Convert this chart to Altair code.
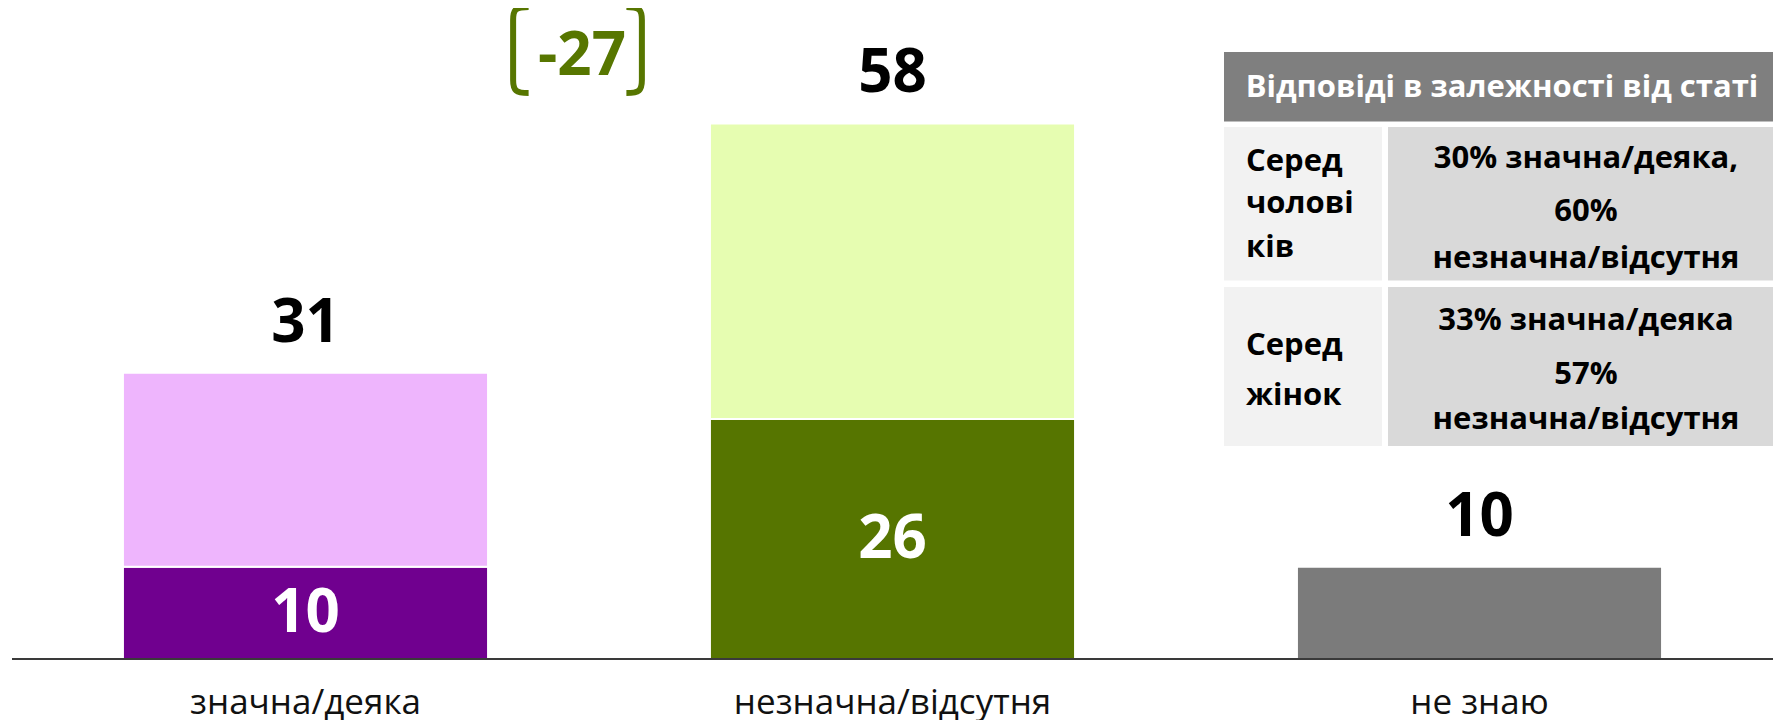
import altair as alt
import pandas as pd

# ---------------- data ----------------
categories = ["значна/деяка", "незначна/відсутня", "не знаю"]
bottom_values = [10, 26, 10]
top_values = [21, 32, 0]
totals = [31, 58, 10]
bottom_colors = ["#70008F", "#567500", "#7B7B7B"]
top_colors = ["#EEB5FD", "#E6FDB1", "#FFFFFF"]
diff_text = "-27"

table_header = "Відповіді в залежності від статі"
table_groups = [["Серед", "чолові", "ків"], ["Серед", "жінок"]]
table_answers = [["30% значна/деяка,", "60%", "незначна/відсутня"],
                 ["33% значна/деяка", "57%", "незначна/відсутня"]]

FONT = "Open Sans"
OLIVE = "#577600"

# ---------------- tables built from the arrays ----------------
seg_rows = []
seg_names = []
seg_colors = []
for i, c in enumerate(categories):
    for k, (v, col) in enumerate([(bottom_values[i], bottom_colors[i]), (top_values[i], top_colors[i])]):
        if v > 0:
            name = f"{c}-{k}"
            seg_rows.append({"cat": c, "seg": name, "value": v, "ord": k})
            seg_names.append(name)
            seg_colors.append(col)
seg_df = pd.DataFrame(seg_rows)
tot_df = pd.DataFrame({"cat": categories, "total": totals})
inner_df = pd.DataFrame({"cat": categories[:2], "value": bottom_values[:2]})

x_enc = alt.X("cat:N", sort=categories,
              scale=alt.Scale(paddingInner=0.378, paddingOuter=0.189),
              axis=alt.Axis(title=None, ticks=False, domain=False, labelFont=FONT,
                            labelFontSize=35, labelColor="#111111", labelAngle=0,
                            labelBaseline="alphabetic", labelPadding=54, labelLimit=500))
y_scale = alt.Scale(domain=[0, 70.5])

bars = alt.Chart(seg_df).mark_bar(stroke="white", strokeWidth=2).encode(
    x=x_enc,
    y=alt.Y("value:Q", stack="zero", scale=y_scale, axis=None),
    color=alt.Color("seg:N", scale=alt.Scale(domain=seg_names, range=seg_colors), legend=None),
    order=alt.Order("ord:Q"),
)

baseline = alt.Chart(pd.DataFrame({"y": [0]})).mark_rule(color="#3A3A3A", strokeWidth=2).encode(
    y=alt.Y("y:Q", scale=y_scale, axis=None), x=alt.value(0), x2=alt.value(1761))

top_labels = alt.Chart(tot_df).mark_text(font=FONT, fontSize=60, fontWeight="bold",
                                         baseline="alphabetic", dy=-31, color="#000000").encode(
    x=alt.X("cat:N", sort=categories), y=alt.Y("total:Q", scale=y_scale), text="total:Q")

inner_labels = alt.Chart(inner_df).transform_calculate(mid="datum.value / 2").mark_text(
    font=FONT, fontSize=60, fontWeight="bold", baseline="alphabetic", dy=19, color="white").encode(
    x=alt.X("cat:N", sort=categories), y=alt.Y("mid:Q", scale=y_scale), text="value:Q")

one = pd.DataFrame({"a": [0]})
diff = alt.Chart(one).mark_text(font=FONT, fontSize=60, fontWeight="bold", baseline="alphabetic",
                                color=OLIVE, text=diff_text).encode(x=alt.value(570), y=alt.value(67))
left_br = "M 0.2 -1 C -0.1 -1 -0.16 -0.94 -0.16 -0.7 L -0.16 0.7 C -0.16 0.94 -0.1 1 0.2 1"
right_br = "M -0.2 -1 C 0.1 -1 0.16 -0.94 0.16 -0.7 L 0.16 0.7 C 0.16 0.94 0.1 1 -0.2 1"
br1 = alt.Chart(one).mark_point(shape=left_br, filled=False, strokeWidth=6, color=OLIVE,
                                size=7400, opacity=1).encode(x=alt.value(508), y=alt.value(42))
br2 = alt.Chart(one).mark_point(shape=right_br, filled=False, strokeWidth=6, color=OLIVE,
                                size=7400, opacity=1).encode(x=alt.value(623), y=alt.value(42))

# ---------------- table ----------------
layers = []
def rect(x0, x1, y0, y1, col):
    return alt.Chart(one).mark_rect(color=col).encode(
        x=alt.value(x0), x2=alt.value(x1), y=alt.value(y0), y2=alt.value(y1))

def txt(s, x, y, align, col="#000000", size=31):
    return alt.Chart(one).mark_text(text=s, font=FONT, fontSize=size, fontWeight="bold",
                                    align=align, baseline="middle", color=col).encode(
        x=alt.value(x), y=alt.value(y))

layers.append(rect(1212, 1775, 44, 113.5, "#7F7F7F"))
row_y = [(119, 272.5), (279, 438)]
for (y0, y1) in row_y:
    layers.append(rect(1212, 1370, y0, y1, "#F2F2F2"))
    layers.append(rect(1376, 1775, y0, y1, "#D9D9D9"))
layers.append(txt(table_header, 1490, 80, "center", "white", 31))
left_ys = [[154, 196, 240], [338, 388]]
right_ys = [[151, 204, 251], [313, 367, 412]]
for g in range(2):
    for s, yy in zip(table_groups[g], left_ys[g]):
        layers.append(txt(s, 1234, yy, "left"))
    for s, yy in zip(table_answers[g], right_ys[g]):
        layers.append(txt(s, 1574, yy, "center"))

chart = alt.layer(bars, baseline, top_labels, inner_labels, diff, br1, br2, *layers).properties(
    width=1761, height=651,
    autosize=alt.AutoSizeParams(type="none"),
    padding={"left": 4, "top": 0, "right": 0, "bottom": 61},
).configure(background="white", view=alt.ViewConfig(stroke=None))

chart.save("out.html", embed_options={"renderer": "svg", "actions": False})
